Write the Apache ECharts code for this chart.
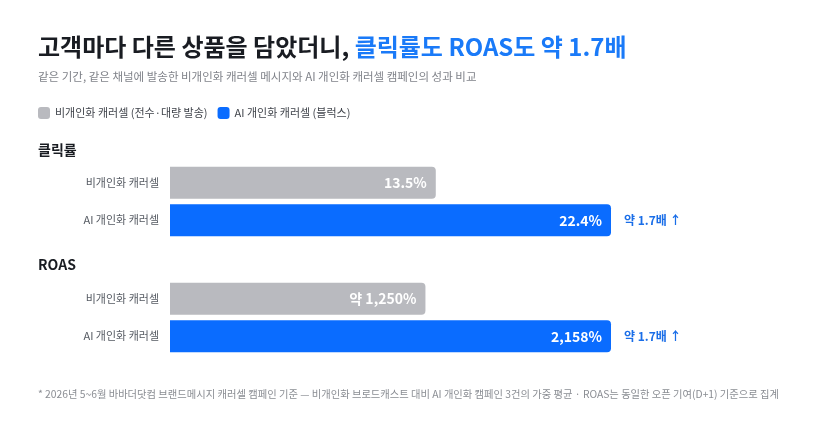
<!DOCTYPE html>
<html>
<head>
<meta charset="utf-8">
<script src="https://cdn.jsdelivr.net/npm/echarts@6/dist/echarts.min.js"></script>
<style>
  html, body { margin: 0; padding: 0; background: #fff; }
  #chart { width: 828px; height: 435px; }
</style>
</head>
<body>
<div id="chart"></div>
<script>
// 데이터
var categories = ['비개인화 캐러셀', 'AI 개인화 캐러셀'];
var seriesNames = ['비개인화 캐러셀 (전수·대량 발송)', 'AI 개인화 캐러셀 (블럭스)'];
var clickRate = [13.5, 22.4];
var clickLabels = ['13.5%', '22.4%'];
var roas = [1250, 2158];
var roasLabels = ['약 1,250%', '2,158%'];
var liftLabels = ['', '약 1.7배 ↑'];

var FONT = '"Noto Sans CJK KR", "Noto Sans", sans-serif';
var GRAY = '#b9babf';
var BLUE = '#0a6cff';

var chart = echarts.init(document.getElementById('chart'));

function valueLabel(labels) {
    return {
        show: true,
        position: 'insideRight',
        distance: 9,
        color: '#fff',
        fontFamily: FONT,
        fontWeight: 'bold',
        fontSize: 14,
        formatter: function (p) { return labels[p.dataIndex]; }
    };
}

// 한 그룹(클릭률/ROAS)의 시리즈 3개
function groupSeries(idx, values, labels) {
    return [
        {
            name: seriesNames[0],
            type: 'bar',
            xAxisIndex: idx, yAxisIndex: idx,
            barWidth: 32,
            barGap: '-100%',
            data: [values[0], '-'],
            itemStyle: { color: GRAY, borderRadius: [0, 4, 4, 0] },
            label: valueLabel(labels),
            silent: true
        },
        {
            name: seriesNames[1],
            type: 'bar',
            xAxisIndex: idx, yAxisIndex: idx,
            barWidth: 32,
            barGap: '-100%',
            data: ['-', values[1]],
            itemStyle: { color: BLUE, borderRadius: [0, 4, 4, 0] },
            label: valueLabel(labels),
            silent: true
        },
        {
            name: 'lift',
            type: 'bar',
            xAxisIndex: idx, yAxisIndex: idx,
            barWidth: 32,
            barGap: '-100%',
            data: ['-', values[1]],
            itemStyle: { color: 'transparent' },
            label: {
                show: true,
                position: 'right',
                distance: 13,
                color: '#1a6ee8',
                fontFamily: FONT,
                fontWeight: 'bold',
                fontSize: 12,
                formatter: function (p) { return liftLabels[p.dataIndex]; }
            },
            silent: true
        }
    ];
}

function yAxis(idx) {
    return {
        type: 'category',
        gridIndex: idx,
        data: categories,
        inverse: true,
        axisLine: { show: false },
        axisTick: { show: false },
        axisLabel: { color: '#555a62', fontFamily: FONT, fontSize: 11, margin: 11 }
    };
}

function xAxis(idx, max) {
    return { type: 'value', gridIndex: idx, min: 0, max: max, show: false, splitLine: { show: false } };
}

var option = {
    backgroundColor: '#fff',
    animation: false,
    textStyle: { fontFamily: FONT },
    title: [
        {
            left: 38, top: 35, padding: 0,
            text: '{a|고객마다 다른 상품을 담았더니, }{b|클릭률도 ROAS도 약 1.7배}',
            textStyle: {
                rich: {
                    a: { fontFamily: FONT, fontSize: 24, fontWeight: 'bold', color: '#191c22' },
                    b: { fontFamily: FONT, fontSize: 24, fontWeight: 'bold', color: '#1a7af8' }
                }
            }
        },
        {
            left: 38, top: 71, padding: 0,
            text: '같은 기간, 같은 채널에 발송한 비개인화 캐러셀 메시지와 AI 개인화 캐러셀 캠페인의 성과 비교',
            textStyle: { fontFamily: FONT, fontSize: 11.5, fontWeight: 'normal', color: '#80838a' }
        },
        {
            left: 38, top: 143, padding: 0,
            text: '클릭률',
            textStyle: { fontFamily: FONT, fontSize: 14, fontWeight: 'bold', color: '#191c22' }
        },
        {
            left: 38, top: 258, padding: 0,
            text: 'ROAS',
            textStyle: { fontFamily: FONT, fontSize: 14, fontWeight: 'bold', color: '#191c22' }
        },
        {
            left: 38, top: 389, padding: 0,
            text: '* 2026년 5~6월 바바더닷컴 브랜드메시지 캐러셀 캠페인 기준 — 비개인화 브로드캐스트 대비 AI 개인화 캠페인 3건의 가중 평균 · ROAS는 동일한 오픈 기여(D+1) 기준으로 집계',
            textStyle: { fontFamily: FONT, fontSize: 10.3, fontWeight: 'normal', color: '#8a8d93' }
        }
    ],
    legend: {
        left: 38, top: 107, padding: 0,
        data: seriesNames,
        icon: 'roundRect',
        itemWidth: 12, itemHeight: 12,
        itemGap: 10,
        selectedMode: false,
        textStyle: { fontFamily: FONT, fontSize: 11, color: '#40444b' }
    },
    grid: [
        { left: 170, width: 441, top: 164, height: 75 },
        { left: 170, width: 441, top: 280, height: 75 }
    ],
    xAxis: [xAxis(0, clickRate[1]), xAxis(1, roas[1])],
    yAxis: [yAxis(0), yAxis(1)],
    series: groupSeries(0, clickRate, clickLabels).concat(groupSeries(1, roas, roasLabels))
};

chart.setOption(option);
</script>
</body>
</html>
